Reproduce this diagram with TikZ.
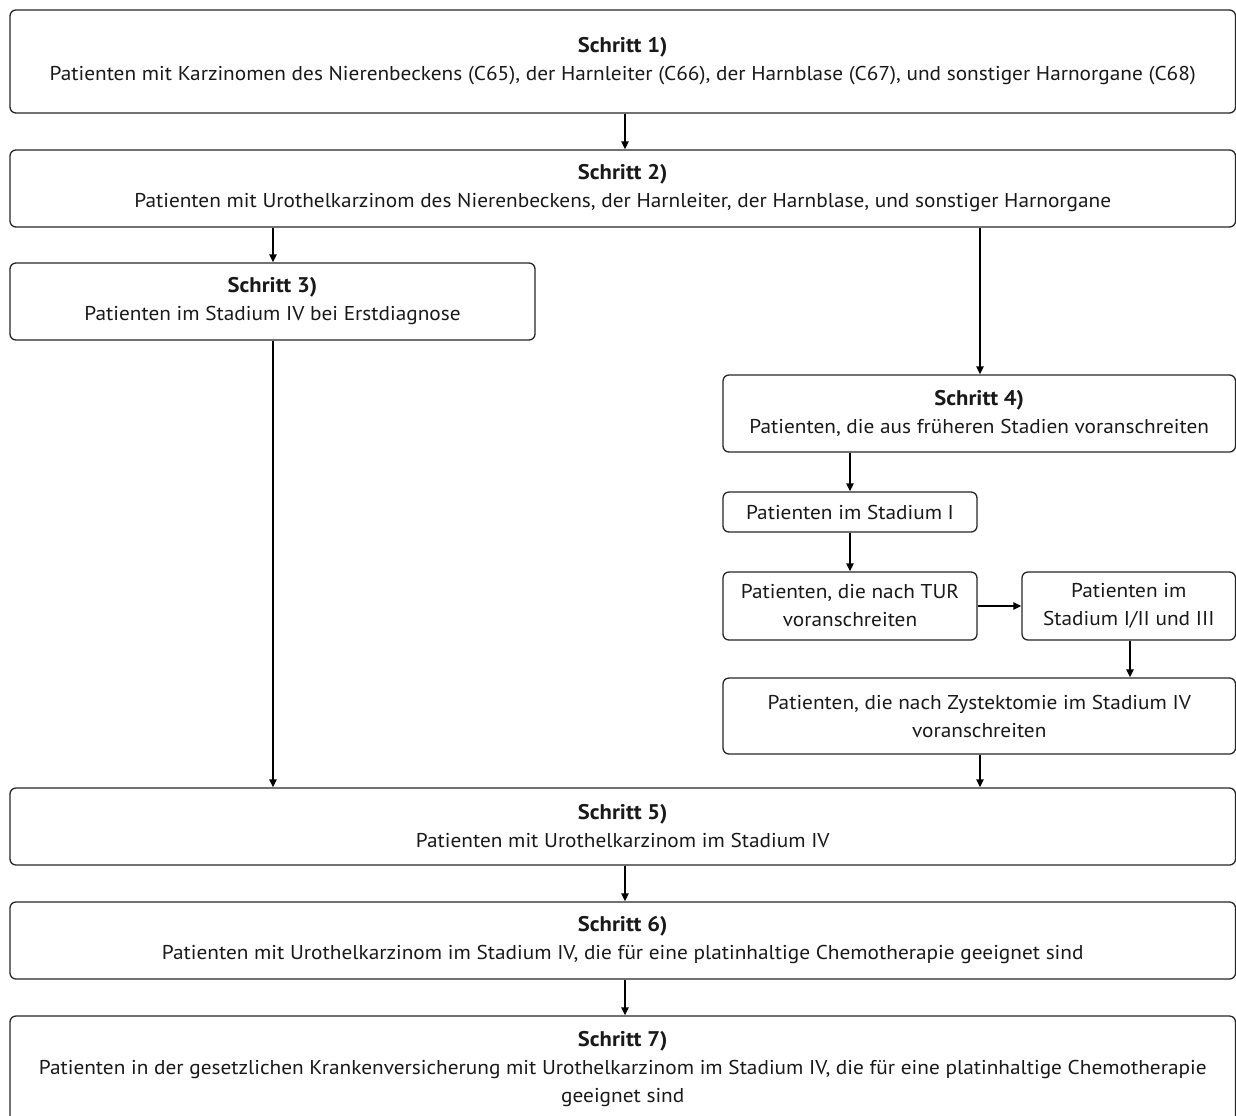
\documentclass[tikz,border=0pt]{standalone}
\usepackage{fontspec}
\setmainfont[FakeStretch=1.065]{PT Sans}
\usetikzlibrary{arrows.meta}
\newcommand{\stp}[1]{{\fontsize{10.6pt}{14pt}\selectfont\bfseries #1}}
\begin{document}
\begin{tikzpicture}[x=0.5pt,y=-0.5pt,
  box/.style={draw=black!85, line width=0.65pt, rounded corners=3pt, align=center,
    inner sep=0pt, font=\fontsize{10pt}{14pt}\selectfont, text=black!90},
  arr/.style={line width=0.85pt, draw=black, -{Triangle[length=4pt,width=3.6pt]}}]
\useasboundingbox (0,0) rectangle (1236,1115);
\node[box, minimum width=612.75pt, minimum height=51.5pt] (b1) at (622.75,61.5)
  {\stp{Schritt 1)}\\Patienten mit Karzinomen des Nierenbeckens (C65), der Harnleiter (C66), der Harnblase (C67), und sonstiger Harnorgane (C68)};
\node[box, minimum width=612.75pt, minimum height=38.5pt] (b2) at (622.75,188.5)
  {\stp{Schritt 2)}\\Patienten mit Urothelkarzinom des Nierenbeckens, der Harnleiter, der Harnblase, und sonstiger Harnorgane};
\node[box, minimum width=262.5pt, minimum height=38.5pt] (b3) at (272.5,301.5)
  {\stp{Schritt 3)}\\Patienten im Stadium IV bei Erstdiagnose};
\node[box, minimum width=256.25pt, minimum height=38.5pt] (b4) at (979.25,413.5)
  {\stp{Schritt 4)}\\Patienten, die aus früheren Stadien voranschreiten};
\node[box, minimum width=127pt, minimum height=20pt] (bI) at (850,512)
  {Patienten im Stadium I};
\node[box, minimum width=127pt, minimum height=34pt] (bTUR) at (850,606)
  {Patienten, die nach TUR\\voranschreiten};
\node[box, minimum width=106.75pt, minimum height=34pt] (bII) at (1128.75,606)
  {Patienten im\\Stadium I/II und III};
\node[box, minimum width=256.25pt, minimum height=38pt] (bZ) at (979.25,716)
  {Patienten, die nach Zystektomie im Stadium IV\\voranschreiten};
\node[box, minimum width=612.75pt, minimum height=38.5pt] (b5) at (622.75,826.5)
  {\stp{Schritt 5)}\\Patienten mit Urothelkarzinom im Stadium IV};
\node[box, minimum width=612.75pt, minimum height=38.5pt] (b6) at (622.75,940.5)
  {\stp{Schritt 6)}\\Patienten mit Urothelkarzinom im Stadium IV, die für eine platinhaltige Chemotherapie geeignet sind};
\node[box, minimum width=612.75pt, minimum height=53pt] (b7) at (622.75,1069)
  {\stp{Schritt 7)}\\Patienten in der gesetzlichen Krankenversicherung mit Urothelkarzinom im Stadium IV, die für eine platinhaltige Chemotherapie\\geeignet sind};
\coordinate (xm) at (625,0);
\coordinate (xa) at (273,0);
\coordinate (xb) at (980,0);
\coordinate (xc) at (850,0);
\coordinate (xd) at (1130,0);
\draw[arr] (b1.south -| xm) -- (b2.north -| xm);
\draw[arr] (b2.south -| xa) -- (b3.north -| xa);
\draw[arr] (b2.south -| xb) -- (b4.north -| xb);
\draw[arr] (b3.south -| xa) -- (b5.north -| xa);
\draw[arr] (b4.south -| xc) -- (bI.north -| xc);
\draw[arr] (bI.south -| xc) -- (bTUR.north -| xc);
\draw[arr] (bTUR.east) -- (bII.west);
\draw[arr] (bII.south -| xd) -- (bZ.north -| xd);
\draw[arr] (bZ.south -| xb) -- (b5.north -| xb);
\draw[arr] (b5.south -| xm) -- (b6.north -| xm);
\draw[arr] (b6.south -| xm) -- (b7.north -| xm);
\end{tikzpicture}
\end{document}
